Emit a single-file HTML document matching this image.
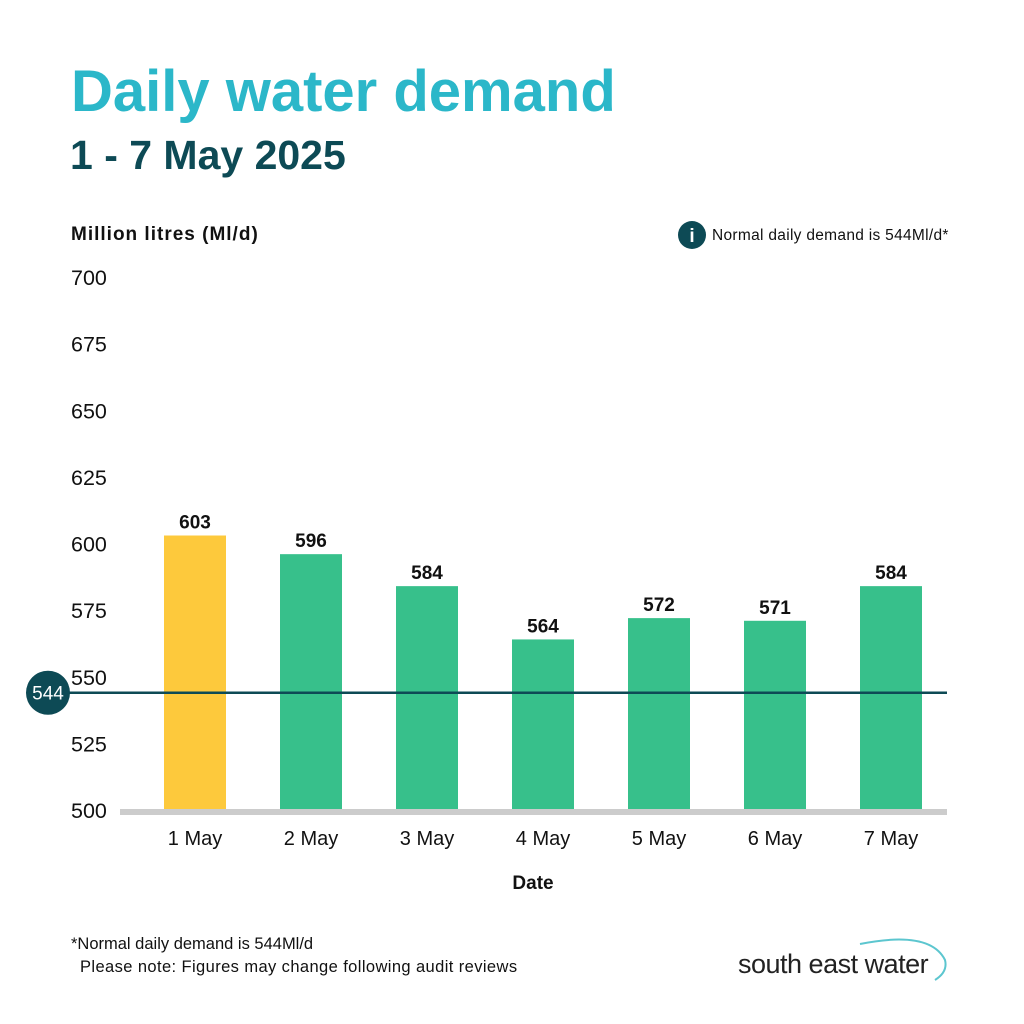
<!DOCTYPE html>
<html><head><meta charset="utf-8"><style>
body{margin:0;background:#fff;}
svg{display:block;font-family:"Liberation Sans",sans-serif;}
</style></head><body>
<svg id="chart" width="1024" height="1024" viewBox="0 0 1024 1024">
<rect width="1024" height="1024" fill="#fff"/>
<text x="71" y="111" font-size="58" font-weight="bold" fill="#2bb7c9">Daily water demand</text>
<text x="70" y="169" font-size="41" font-weight="bold" fill="#0d4a55">1 - 7 May 2025</text>
<text x="71" y="240" font-size="19" font-weight="bold" fill="#111" letter-spacing="1">Million litres (Ml/d)</text>
<g>
<circle cx="692" cy="235" r="14" fill="#0d4a55"/>
<text x="692" y="242" font-size="19" font-weight="bold" fill="#fff" text-anchor="middle">i</text>
<text x="712" y="240" font-size="15.5" fill="#111" letter-spacing="0.3">Normal daily demand is 544Ml/d*</text>
</g>
<g id="yticks"></g>
<g id="bars"></g>
<rect x="120" y="809" width="827" height="6" fill="#cccccc"/>
<g id="ref"></g>
<g id="xlabels"></g>
<text x="533" y="889" font-size="19" font-weight="bold" fill="#111" text-anchor="middle">Date</text>
<text x="71" y="949" font-size="16.5" fill="#111">*Normal daily demand is 544Ml/d</text>
<text x="80" y="972" font-size="16.5" fill="#111" letter-spacing="0.4">Please note: Figures may change following audit reviews</text>
<g>
<text x="738" y="973" font-size="27" fill="#222" letter-spacing="-0.5">south east water</text>
<path d="M860 944 Q930 930 945 960 Q948 972 935 980" fill="none" stroke="#5cc6cf" stroke-width="2"/>
</g>
</svg>
<script>
const categories=["1 May","2 May","3 May","4 May","5 May","6 May","7 May"];
const values=[603,596,584,564,572,571,584];
const highlight=[true,false,false,false,false,false,false];
const yTicks=[500,525,550,575,600,625,650,675,700];
const normalDemand=544;
const NS="http://www.w3.org/2000/svg";
const y0=810,pxPerUnit=533/200;
function yScale(v){return y0-(v-500)*pxPerUnit;}
const xStart=137,step=116,bw=62;
function xScale(i){return xStart+i*step+step/2;}
function mk(tag,attrs,parent,txt){const e=document.createElementNS(NS,tag);for(const k in attrs)e.setAttribute(k,attrs[k]);if(txt!==undefined)e.textContent=txt;parent.appendChild(e);return e;}
const yt=document.getElementById('yticks');
yTicks.forEach(t=>{const e=mk('text',{x:71,y:yScale(t)+8,'font-size':21.5,fill:'#111'},yt,String(t));

});
const bars=document.getElementById('bars');
const xl=document.getElementById('xlabels');
values.forEach((v,i)=>{const cx=xScale(i);const top=yScale(v);
const r=mk('rect',{x:cx-bw/2,y:top,width:bw,height:y0-top,fill:highlight[i]?'#fdc93c':'#37c08b'},bars);


const l=mk('text',{x:cx,y:top-7,'font-size':19,'font-weight':'bold',fill:'#111','text-anchor':'middle'},bars,String(v));


const xlab=mk('text',{x:cx,y:845,'font-size':20,fill:'#111','text-anchor':'middle'},xl,categories[i]);

});
const ref=document.getElementById('ref');const ry=yScale(normalDemand);
const ln=mk('line',{x1:60,y1:ry,x2:947,y2:ry,stroke:'#0d4a55','stroke-width':2.5},ref);


const c=mk('circle',{cx:48,cy:ry,r:22,fill:'#0d4a55'},ref);


const ct=mk('text',{x:48,y:ry+7,'font-size':19,fill:'#fff','text-anchor':'middle'},ref,String(normalDemand));


</script>
</body></html>
